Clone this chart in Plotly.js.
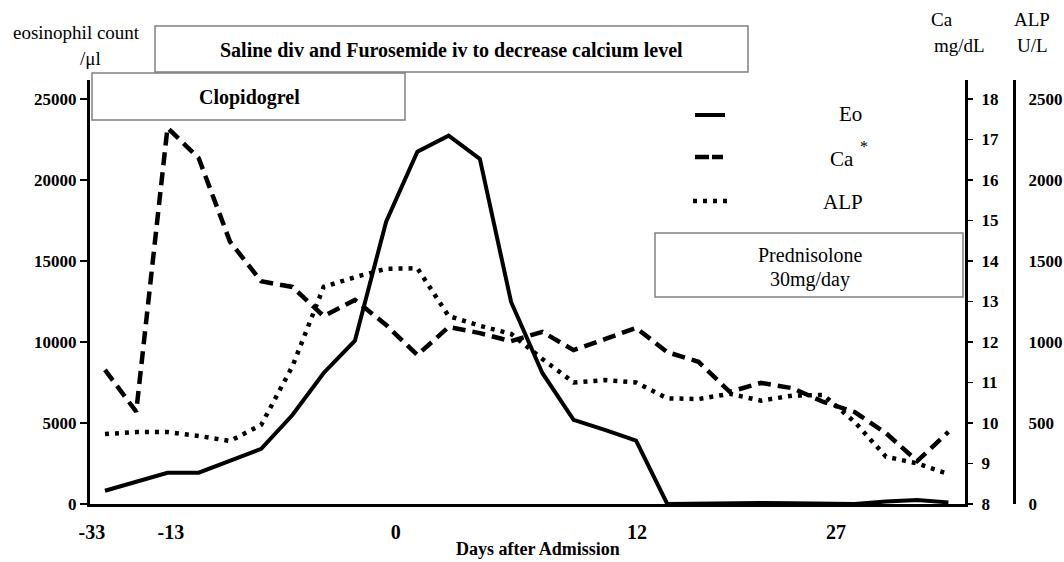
<!DOCTYPE html>
<html><head><meta charset="utf-8">
<script src="https://cdn.plot.ly/plotly-3.0.1.min.js"></script>
<style>html,body{margin:0;padding:0;background:#fff}#chart{width:1064px;height:562px}</style>
</head><body><div id="chart"></div><script>
// ---- data ----
const samplePoint = [0,1,2,3,4,5,6,7,8,9,10,11,12,13,14,15,16,17,18,19,20,21,22,23,24,25,26,27];
const eosinophil = [820,1380,1930,1930,2650,3400,5490,8090,10080,17430,21750,22740,21300,12470,8090,5190,4570,3910,0,30,60,60,50,0,0,150,250,100];
const calcium = [11.31,10.28,17.29,16.54,14.48,13.5,13.36,12.64,13.04,12.42,11.68,12.37,12.22,12.02,12.25,11.80,12.07,12.35,11.75,11.51,10.77,10.99,10.86,10.52,10.27,9.75,9.06,9.78];
const alp = [432,444,444,420,389,488,850,1340,1400,1452,1455,1160,1100,1050,895,750,765,750,652,648,680,638,669,673,506,292,251,185];
const dayTickPos = [-0.42,2.11,9.31,17.03,23.4];
const dayTickText = ['-33','-13','0','12','27'];
const eoTicks = [0,5000,10000,15000,20000,25000];
const caTicks = [8,9,10,11,12,13,14,15,16,17,18];
const alpTicks = [0,500,1000,1500,2000,2500];
const seriesNames = ['Eo','Ca','ALP'];

// ---- geometry helpers (pixel -> paper) ----
const L=90, R=1014, T=80, B=504;
const px = x => (x-L)/(R-L);
const py = y => (B-y)/(B-T);
const FONT = 'Liberation Serif, Times New Roman, serif';

const traces = [
  {x:samplePoint, y:eosinophil, name:seriesNames[0], mode:'lines', yaxis:'y',
   line:{color:'#000', width:4}},
  {x:samplePoint, y:calcium, name:seriesNames[1], mode:'lines', yaxis:'y2',
   line:{color:'#000', width:4.5, dash:'13px,7px'}},
  {x:samplePoint, y:alp, name:seriesNames[2], mode:'lines', yaxis:'y3',
   line:{color:'#000', width:4.5, dash:'4px,6px'}}
];

function box(x0,y0,x1,y1){
  return {type:'rect', xref:'paper', yref:'paper', x0:px(x0), x1:px(x1), y0:py(y1), y1:py(y0),
          fillcolor:'#fff', line:{color:'#808080', width:1.5}, layer:'above'};
}
function seg(x0,x1,y,dash,w){
  return {type:'line', xref:'paper', yref:'paper', x0:px(x0), x1:px(x1), y0:py(y), y1:py(y),
          line:{color:'#000', width:w, dash:dash}, layer:'above'};
}
function txt(t,x,y,size,bold){
  return {text:t, xref:'paper', yref:'paper', x:px(x), y:py(y), xanchor:'center', yanchor:'middle',
          showarrow:false, font:{family:FONT, size:size, color:'#000', weight: bold?'bold':'normal'}};
}

const layout = {
  width:1064, height:562,
  margin:{l:L, r:1064-R, t:T, b:562-B, pad:0},
  paper_bgcolor:'#fff', plot_bgcolor:'#fff',
  font:{family:FONT, color:'#000'},
  showlegend:false,
  xaxis:{domain:[0,(965-L)/(R-L)], range:[-0.48,27.53], tickmode:'array', tickvals:dayTickPos, ticktext:dayTickText,
         ticks:'', showline:true, linewidth:3, linecolor:'#000', showgrid:false, zeroline:false,
         tickfont:{family:FONT, size:20, weight:'bold'}, ticklabelstandoff:8},
  yaxis:{range:[0,26173], tickmode:'array', tickvals:eoTicks, ticktext:eoTicks.map(String), ticks:'outside', ticklen:7, tickwidth:2, tickcolor:'#000',
         showline:true, linewidth:3, linecolor:'#000', showgrid:false, zeroline:false,
         tickfont:{family:FONT, size:17, weight:'bold'}},
  yaxis2:{range:[8,18.47], overlaying:'y', side:'right', anchor:'x', tickmode:'array', tickvals:caTicks, ticktext:caTicks.map(String),
          ticks:'outside', ticklen:5, tickwidth:1.5, tickcolor:'#000', showline:true, linewidth:3, linecolor:'#000',
          showgrid:false, zeroline:false, tickfont:{family:FONT, size:17, weight:'bold'}, ticklabelstandoff:5},
  yaxis3:{range:[0,2617], overlaying:'y', side:'right', anchor:'free', position:1, tickmode:'array', tickvals:alpTicks, ticktext:alpTicks.map(String),
          ticks:'', showline:true, linewidth:3, linecolor:'#000', showgrid:false, zeroline:false,
          tickfont:{family:FONT, size:17, weight:'bold'}, ticklabelstandoff:9},
  shapes:[
    box(155,26,748,72),
    box(92,73,405,120),
    box(655,233,963,297),
    seg(695,725,115,'solid',4),
    seg(695,723,157,'14px,3px',4.5),
    seg(693,727,201,'4px,6px',4.5)
  ],
  annotations:[
    txt('Saline div and Furosemide iv to decrease calcium level',451,50,20,true),
    txt('Clopidogrel',249,97,20,true),
    txt('Prednisolone',810,255,20,false),
    txt('30mg/day',810,279,20,false),
    txt(seriesNames[0],850,114,21,false),
    txt(seriesNames[1],842,159,21,false),
    txt('*',864,146,16,false),
    txt(seriesNames[2],843,202,21,false),
    txt('eosinophil count',76,33,19,false),
    txt('/μl',90,58,19,false),
    txt('Ca',942,19,19,false),
    txt('mg/dL',959,46,19,false),
    txt('ALP',1032,19,19,false),
    txt('U/L',1032,46,19,false),
    txt('Days after Admission',538,549,18,true)
  ]
};

Plotly.newPlot('chart', traces, layout, {displayModeBar:false, staticPlot:true});
</script></body></html>
